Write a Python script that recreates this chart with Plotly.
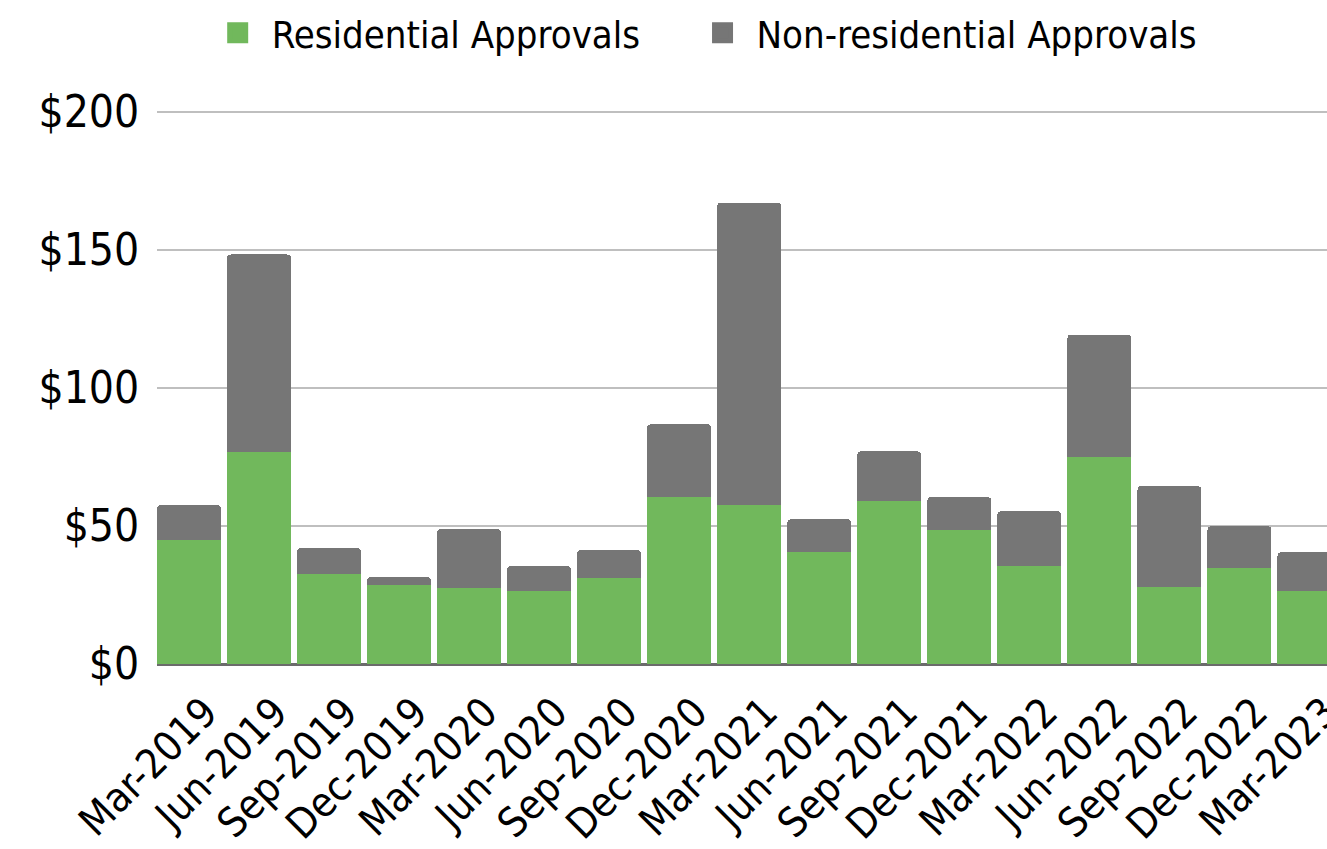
import plotly.graph_objects as go

quarters = ["Mar-2019", "Jun-2019", "Sep-2019", "Dec-2019", "Mar-2020", "Jun-2020",
            "Sep-2020", "Dec-2020", "Mar-2021", "Jun-2021", "Sep-2021", "Dec-2021",
            "Mar-2022", "Jun-2022", "Sep-2022", "Dec-2022", "Mar-2023"]
residential = [44.8, 76.7, 32.5, 28.6, 27.5, 26.4, 31.1, 60.4, 57.5, 40.5, 59.0, 48.5,
               35.4, 74.9, 27.8, 34.7, 26.4]
total = [57.5, 148.3, 42.0, 31.5, 48.8, 35.4, 41.2, 86.8, 167.1, 52.4, 77.0, 60.4,
         55.3, 119.3, 64.4, 49.9, 40.5]
non_residential = [round(t - r, 1) for t, r in zip(total, residential)]
y_ticks = [0, 50, 100, 150, 200]
y_labels = ["$0", "$50", "$100", "$150", "$200"]
legend_names = ["Residential Approvals\u00a0\u00a0\u00a0\u00a0", "Non-residential Approvals"]

GREEN = "#71B85C"
GRAY = "#767676"
FONT = "DejaVu Sans Condensed, Liberation Sans Narrow, sans-serif"

fig = go.Figure()
fig.add_trace(go.Bar(x=quarters, y=residential, name="Residential Approvals",
                     marker=dict(color=GREEN, line=dict(width=0)), showlegend=False))
fig.add_trace(go.Bar(x=quarters, y=non_residential, name="Non-residential Approvals",
                     marker=dict(color=GRAY, line=dict(width=0)), showlegend=False))
# legend entries with larger square symbols
fig.add_trace(go.Scatter(x=[None], y=[None], mode="markers", name=legend_names[0],
                         marker=dict(symbol="square", size=16, color=GREEN,
                                     line=dict(color=GREEN, width=5))))
fig.add_trace(go.Scatter(x=[None], y=[None], mode="markers", name=legend_names[1],
                         marker=dict(symbol="square", size=16, color=GRAY,
                                     line=dict(color=GRAY, width=5))))

fig.update_layout(
    width=1327, height=849,
    margin=dict(l=157, r=0, t=110, b=185, pad=0, autoexpand=False),
    barmode="stack", bargap=0.086, barcornerradius=4,
    plot_bgcolor="white", paper_bgcolor="white",
    font=dict(family=FONT, size=44, color="black"),
    legend=dict(orientation="h", xref="container", yref="container", traceorder="normal",
                x=0.1535, xanchor="left", y=0.961, yanchor="middle",
                font=dict(size=38), itemwidth=58,
                bgcolor="rgba(0,0,0,0)"),
    xaxis=dict(type="category", range=[-0.457, 16.25], tickangle=-45, showgrid=False,
               ticks="", showline=False, tickfont=dict(size=41), automargin=False,
               ticklabelstandoff=15, ticklabelshift=16),
    yaxis=dict(range=[0, 200.6], tickvals=y_ticks, ticktext=y_labels, showgrid=True,
               gridcolor="#BFBFBF", gridwidth=2, zeroline=True, zerolinecolor="#6B6B6B",
               zerolinewidth=3, showline=False, ticks="outside", ticklen=8, automargin=False,
               tickcolor="white", tickfont=dict(size=44)),
)

fig.write_html("out.html", config={"displayModeBar": False},
               post_script="document.body.style.margin='0';document.body.style.overflow='hidden';")
